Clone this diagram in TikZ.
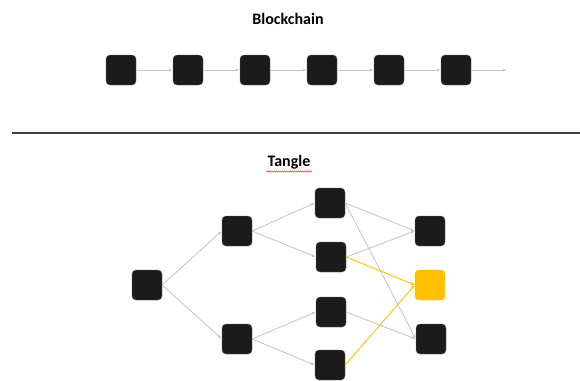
\documentclass[tikz,border=0pt]{standalone}
\usepackage{fontspec}
\setmainfont{Carlito}
\usetikzlibrary{arrows.meta,decorations.pathmorphing}
\definecolor{blk}{HTML}{1B1B1B}
\definecolor{edgegray}{HTML}{C8C8C8}
\definecolor{gold}{HTML}{FFC000}
\definecolor{rule}{HTML}{404040}
\definecolor{spell}{HTML}{E05050}
\tikzset{
  blockbox/.style={draw=black!60, line width=0.4pt, fill=blk, rounded corners=4pt, minimum size=30pt, inner sep=0pt},
  goldbox/.style={blockbox, draw=gold, fill=gold},
  title/.style={font=\bfseries\fontsize{16}{19}\selectfont, inner sep=0pt},
  link/.style={draw=edgegray, line width=0.9pt, -{Latex[length=4pt,width=3.2pt]}},
  goldlink/.style={link, draw=gold, -{Latex[length=4pt,width=3.2pt]}},
}
\begin{document}
\begin{tikzpicture}[x=1pt,y=-1pt]
\useasboundingbox (0,0) rectangle (580,380);
% Blockchain
\node[title] (t1) at (288,19) {Blockchain};
\foreach \i/\x in {1/121,2/188,3/255,4/322,5/389,6/456}
  \node[blockbox] (b\i) at (\x,70) {};
\coordinate (bend) at (507,70);
\foreach \a/\b in {1/2,2/3,3/4,4/5,5/6}
  \draw[link] (b\a.east) -- (b\b.west);
\draw[link] (b6.east) -- (bend);
% separator
\coordinate (l1) at (12,133);
\coordinate (l2) at (580,133);
\draw[rule, line width=1.2pt] (l1) -- (l2);
% Tangle
\node[title] (t2) at (289,162) {Tangle};
\coordinate (s1) at (266,171.5);
\coordinate (s2) at (312,171.5);
\draw[spell, line width=0.45pt, decorate, decoration={zigzag, amplitude=0.7pt, segment length=2pt}] (s1) -- (s2);
\node[blockbox] (a) at (147,285) {};
\node[blockbox] (b1n) at (237,231) {};
\node[blockbox] (b2n) at (237,339) {};
\node[blockbox] (c1) at (330,203) {};
\node[blockbox] (c2) at (331,257) {};
\node[blockbox] (c3) at (331,312) {};
\node[blockbox] (c4) at (330,365) {};
\node[blockbox] (d1) at (430,231) {};
\node[goldbox] (d2) at (430,285) {};
\node[blockbox] (d3) at (431,339) {};
\draw[link] (a.east) -- (b1n.west);
\draw[link] (a.east) -- (b2n.west);
\draw[link] (b1n.east) -- (c1.west);
\draw[link] (b1n.east) -- (c2.west);
\draw[link] (b2n.east) -- (c3.west);
\draw[link] (b2n.east) -- (c4.west);
\draw[link] (c1.east) -- (d1.west);
\draw[link] (c1.east) -- (d3.west);
\draw[link] (c2.east) -- (d1.west);
\draw[link] (c3.east) -- (d3.west);
\draw[goldlink] (c2.east) -- (d2.west);
\draw[goldlink] (c4.east) -- (d2.west);
\end{tikzpicture}
\end{document}
